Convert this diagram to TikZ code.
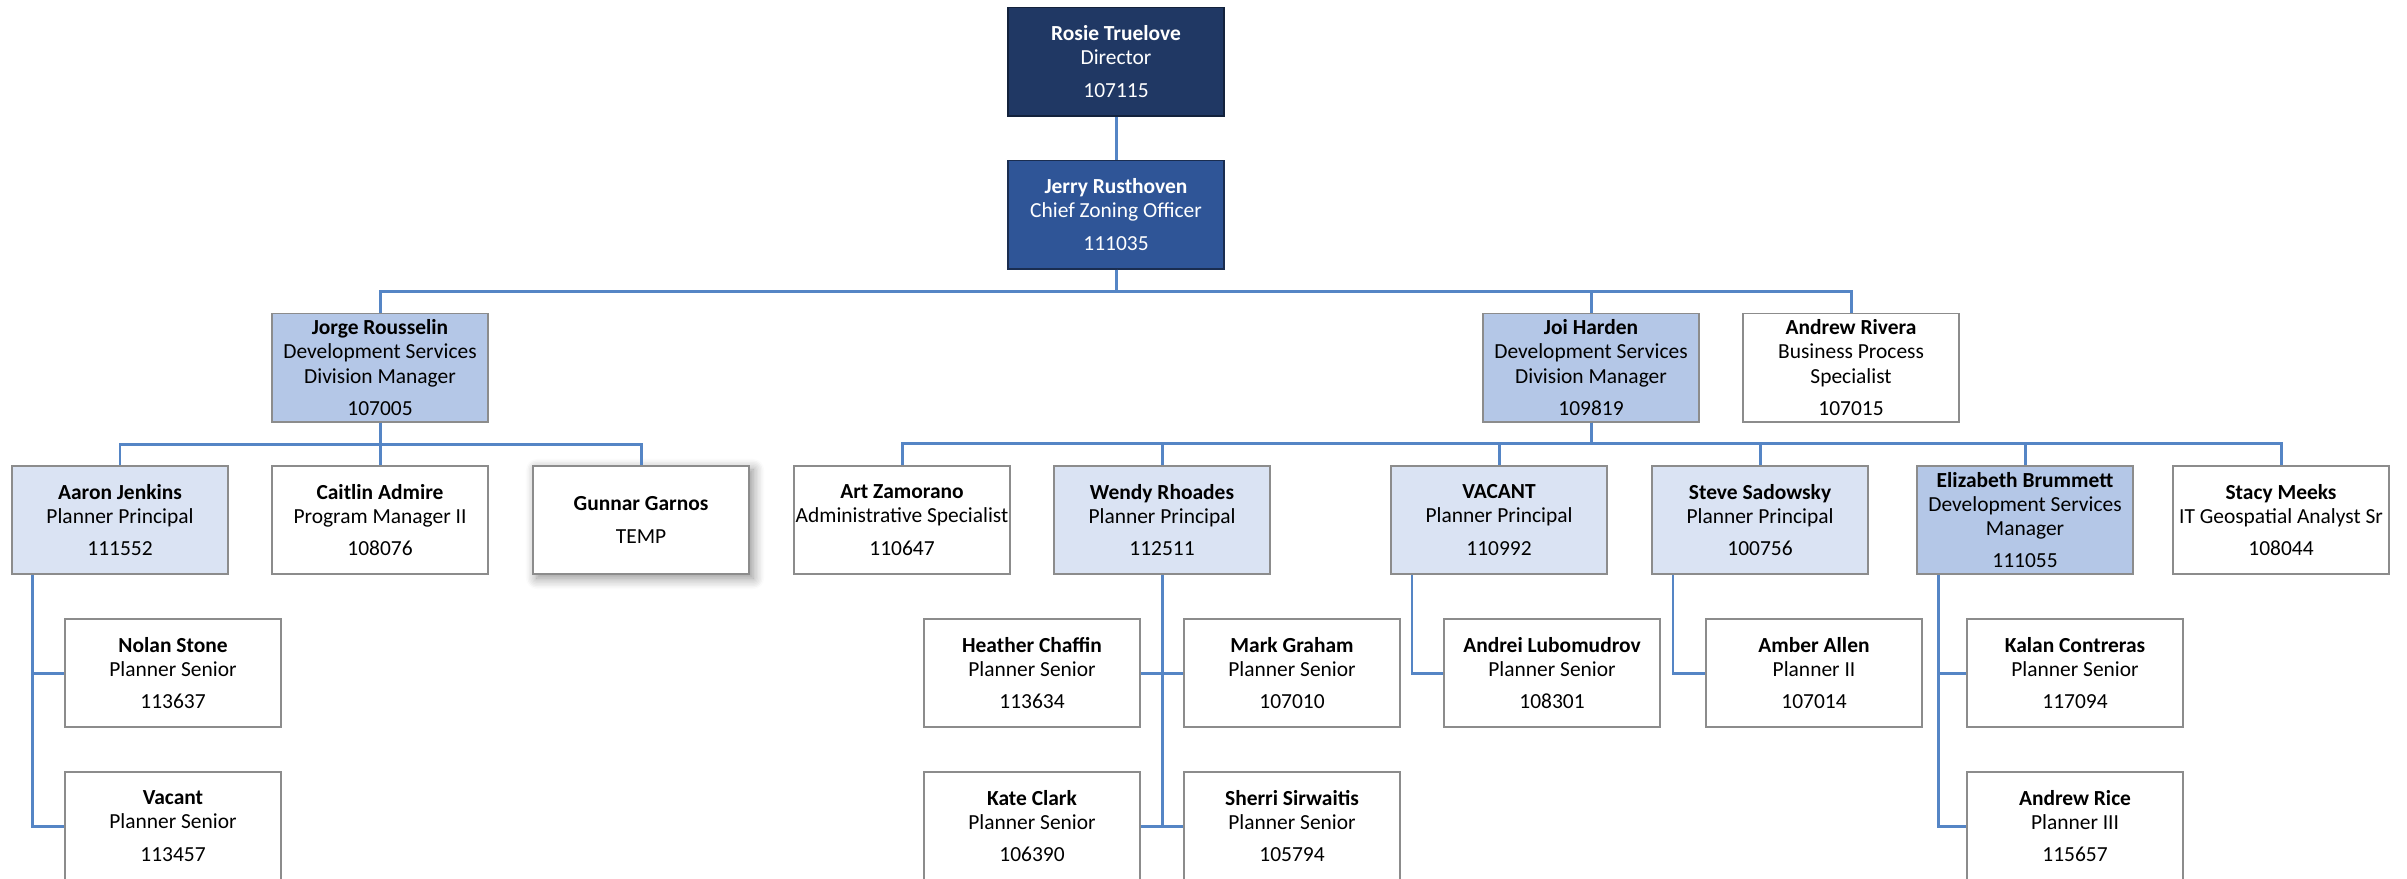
\documentclass[tikz,border=0pt]{standalone}
\usepackage{fontspec}
\setmainfont{Carlito}
\usetikzlibrary{shadows.blur}

\definecolor{dirnavy}{HTML}{203864}
\definecolor{chiefblue}{HTML}{2F5597}
\definecolor{mgrblue}{HTML}{B4C7E7}
\definecolor{leadblue}{HTML}{DAE3F3}
\definecolor{linkblue}{HTML}{5585C5}
\definecolor{edgegray}{HTML}{8C8C8C}

\tikzset{
  post/.style={draw=edgegray, line width=0.55pt, fill=white,
    minimum width=2.16cm, minimum height=1.08cm, inner sep=0pt,
    align=center, font=\fontsize{6.1}{6.9}\selectfont},
  dirpost/.style={post, fill=dirnavy, text=white, draw=dirnavy!60!black},
  chiefpost/.style={post, fill=chiefblue, text=white, draw=dirnavy!80!black},
  mgrpost/.style={post, fill=mgrblue},
  leadpost/.style={post, fill=leadblue},
  temppost/.style={post, blur shadow={shadow blur steps=8, shadow xshift=0.4mm,
    shadow yshift=-0.4mm, shadow blur radius=1.1mm, shadow opacity=45}},
  link/.style={draw=linkblue, line width=0.85pt}
}

\begin{document}
\begin{tikzpicture}[x=0.01cm, y=-0.01cm]
    \useasboundingbox (0,0) rectangle (2407,878);
    \clip (0,0) rectangle (2407,878);

    \node [dirpost] (rosie) at (1116,61.5)
      {\textbf{Rosie Truelove}\\Director\\[2.3pt]107115};
    \node [chiefpost] (jerry) at (1116,214.5)
      {\textbf{Jerry Rusthoven}\\Chief Zoning Officer\\[2.3pt]111035};

    \node [mgrpost] (jorge) at (380,367.5)
      {\textbf{Jorge Rousselin}\\Development Services\\Division Manager\\[2.3pt]107005};
    \node [mgrpost] (joi) at (1591,367.5)
      {\textbf{Joi Harden}\\Development Services\\Division Manager\\[2.3pt]109819};
    \node [post] (rivera) at (1851,367.5)
      {\textbf{Andrew Rivera}\\Business Process\\Specialist\\[2.3pt]107015};

    \node [leadpost] (aaron) at (120,520)
      {\textbf{Aaron Jenkins}\\Planner Principal\\[2.3pt]111552};
    \node [post] (caitlin) at (380,520)
      {\textbf{Caitlin Admire}\\Program Manager II\\[2.3pt]108076};
    \node [temppost] (gunnar) at (641,520)
      {\textbf{Gunnar Garnos}\\[2.3pt]TEMP};
    \node [post] (art) at (902,520)
      {\textbf{Art Zamorano}\\Administrative Specialist\\[2.3pt]110647};
    \node [leadpost] (wendy) at (1162,520)
      {\textbf{Wendy Rhoades}\\Planner Principal\\[2.3pt]112511};
    \node [leadpost] (vacantpp) at (1499,520)
      {\textbf{VACANT}\\Planner Principal\\[2.3pt]110992};
    \node [leadpost] (steve) at (1760,520)
      {\textbf{Steve Sadowsky}\\Planner Principal\\[2.3pt]100756};
    \node [mgrpost] (elizabeth) at (2025,520)
      {\textbf{Elizabeth Brummett}\\Development Services\\Manager\\[2.3pt]111055};
    \node [post] (stacy) at (2281,520)
      {\textbf{Stacy Meeks}\\IT Geospatial Analyst Sr\\[2.3pt]108044};

    \node [post] (nolan) at (173,673)
      {\textbf{Nolan Stone}\\Planner Senior\\[2.3pt]113637};
    \node [post] (heather) at (1032,673)
      {\textbf{Heather Chaffin}\\Planner Senior\\[2.3pt]113634};
    \node [post] (mark) at (1292,673)
      {\textbf{Mark Graham}\\Planner Senior\\[2.3pt]107010};
    \node [post] (andrei) at (1552,673)
      {\textbf{Andrei Lubomudrov}\\Planner Senior\\[2.3pt]108301};
    \node [post] (amber) at (1814,673)
      {\textbf{Amber Allen}\\Planner II\\[2.3pt]107014};
    \node [post] (kalan) at (2075,673)
      {\textbf{Kalan Contreras}\\Planner Senior\\[2.3pt]117094};

    \node [post] (vacantps) at (173,826)
      {\textbf{Vacant}\\Planner Senior\\[2.3pt]113457};
    \node [post] (kate) at (1032,826)
      {\textbf{Kate Clark}\\Planner Senior\\[2.3pt]106390};
    \node [post] (sherri) at (1292,826)
      {\textbf{Sherri Sirwaitis}\\Planner Senior\\[2.3pt]105794};
    \node [post] (rice) at (2075,826)
      {\textbf{Andrew Rice}\\Planner III\\[2.3pt]115657};

    \draw [link] (rosie) -- (jerry);
    \foreach \kid in {jorge,joi,rivera}
      \draw [link] (jerry.south) -- ++(0,22) -| (\kid.north);
    \foreach \kid in {aaron,caitlin,gunnar}
      \draw [link] (jorge.south) -- ++(0,22) -| (\kid.north);
    \foreach \kid in {art,wendy,vacantpp,steve,elizabeth,stacy}
      \draw [link] (joi.south) -- ++(0,21) -| (\kid.north);

    \foreach \kid in {heather,kate}
      \draw [link] (wendy.south) |- (\kid.east);
    \foreach \kid in {mark,sherri}
      \draw [link] (wendy.south) |- (\kid.west);

    \foreach \boss/\kid in {aaron/nolan,aaron/vacantps,vacantpp/andrei,
                            steve/amber,elizabeth/kalan,elizabeth/rice}
      \draw [link] (\boss.south west) ++(22,0) |- (\kid.west);
  \end{tikzpicture}
\end{document}
